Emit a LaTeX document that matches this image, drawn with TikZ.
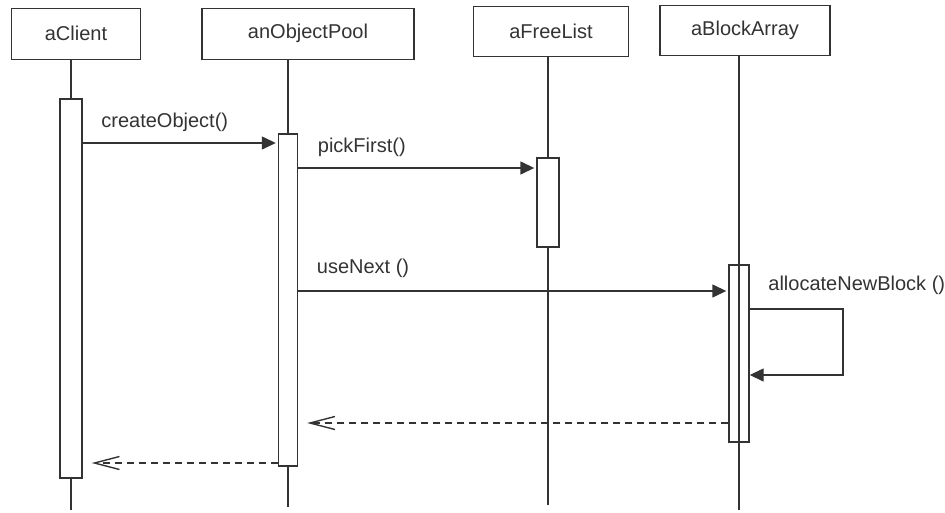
\documentclass[tikz,border=0pt]{standalone}
\usepackage{fontspec}
\setmainfont{Liberation Sans}
\usetikzlibrary{arrows.meta, calc}
\definecolor{ink}{HTML}{333333}

\begin{document}
\begin{tikzpicture}[x=1pt, y=-1pt, ink, line width=1.4pt,
        font=\fontsize{20}{24}\selectfont,
        head/.style={draw, fill=white, inner sep=0pt, minimum height=51pt},
        act/.style={draw, fill=white, inner sep=0pt},
        lbl/.style={anchor=base west, inner sep=0pt, xshift=18pt, yshift=16pt},
        call/.style={-{Triangle[length=14pt,width=13pt]}, shorten >=2pt},
        reply/.style={-{Straight Barb[length=25pt,width=13pt]}, dash pattern=on 7pt off 5pt, shorten >=9pt}]
        \useasboundingbox (0,0) rectangle (945,512);

        % objects
        \node[head, minimum width=129pt] (client) at (76,33.8) {aClient};
        \node[head, minimum width=212pt] (pool) at (308,33.8) {anObjectPool};
        \node[head, minimum width=155pt, minimum height=50pt] (freelist) at (551,31.3) {aFreeList};
        \node[head, minimum width=170pt, minimum height=50pt] (blockarray) at (745,30.5) {aBlockArray};

        % activations
        \node[act, minimum width=22pt, minimum height=379pt] (actC) at (71,288.5) {};
        \node[act, minimum width=19pt, minimum height=332pt] (actP) at (288,300) {};
        \node[act, minimum width=22pt, minimum height=89pt] (actF) at (548,202.5) {};
        \node[act, minimum width=20pt, minimum height=177pt] (actB) at (739,353.5) {};

        % lifelines
        \draw (client.south -| actC) -- (actC.north);
        \draw (actC.south) -- (actC |- 0,510);
        \draw (pool.south -| actP) -- (actP.north);
        \draw (actP.south) -- (actP |- 0,507);
        \draw (freelist.south -| actF) -- (actF.north);
        \draw (actF.south) -- (actF |- 0,505);
        \draw (blockarray.south -| actB) -- (actB |- 0,510);

        % messages
        \draw[call] (actC.east |- 0,143) node[lbl] {createObject()} -- (actP.west |- 0,143);
        \draw[call] (actP.east |- 0,168) node[lbl, xshift=1pt] {pickFirst()} -- (actF.west |- 0,168);
        \draw[call] (actP.east |- 0,291) node[lbl, yshift=2pt] {useNext ()} -- (actB.west |- 0,291);
        \coordinate (bend) at (843,375);
        \draw[call, shorten >=0pt] (actB.east |- 0,309) node[lbl, yshift=3pt] {allocateNewBlock ()}
            -| (bend) -- (actB.east |- bend);

        % replies
        \draw[reply] (actB.west |- 0,423) -- (actP.east |- 0,423);
        \draw[reply] (actP.west |- 0,463) -- (actC.east |- 0,463);
    \end{tikzpicture}
\end{document}
